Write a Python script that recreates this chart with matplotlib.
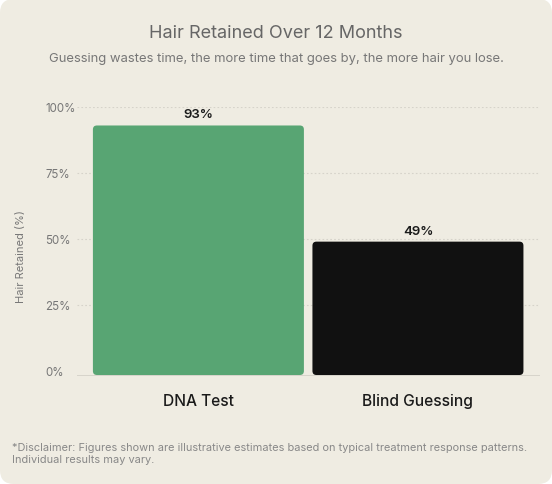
import matplotlib
matplotlib.use("Agg")
import matplotlib.pyplot as plt
from matplotlib.patches import FancyBboxPatch

plt.rcParams['font.family'] = ['Inter', 'DejaVu Sans']

categories = ["DNA Test", "Blind Guessing"]
values = [93, 49]
colors = ["#58a573", "#111111"]
yticks = [0, 25, 50, 75, 100]
ytick_labels = ["0%", "25%", "50%", "75%", "100%"]
title = "Hair Retained Over 12 Months"
subtitle = "Guessing wastes time, the more time that goes by, the more hair you lose."
ylabel = "Hair Retained (%)"
disclaimer = ("*Disclaimer: Figures shown are illustrative estimates based on typical treatment response patterns.\n"
              "Individual results may vary.")

W, H = 552, 485
DPI = 100
fig = plt.figure(figsize=(W / DPI, H / DPI), dpi=DPI)
fig.patch.set_facecolor("white")

bg = "#efece2"
fig.patches.append(FancyBboxPatch((0, 0), 1, 1, boxstyle="round,pad=0,rounding_size=0.025",
                                  mutation_aspect=W / H, transform=fig.transFigure,
                                  facecolor=bg, edgecolor="none", zorder=-10))

def fx(px):
    return px / W

def fy(py):
    return 1 - py / H

# pixel layout: 100% at y=108, 0% at y=372, baseline drawn at y=377
ax_l, ax_r, ax_t, zero_px, base_px = 77, 540, 108, 372, 377
px_per_y = (zero_px - ax_t) / 100.0
ybot = -(base_px - zero_px) / px_per_y
ax = fig.add_axes([fx(ax_l), fy(base_px), fx(ax_r) - fx(ax_l), fy(ax_t) - fy(base_px)])
ax.set_facecolor("none")

xmin, xmax = -0.553, 1.556
ax.set_xlim(xmin, xmax)
ax.set_ylim(ybot, 100)

px_per_x = (ax_r - ax_l) / (xmax - xmin)
bar_w = 211 / px_per_x
r_px = 4
b0 = ybot + 1 / px_per_y
for i, (v, c) in enumerate(zip(values, colors)):
    p = FancyBboxPatch((i - bar_w / 2, b0), bar_w, v - b0,
                       boxstyle=f"round,pad=0,rounding_size={r_px / px_per_x}",
                       mutation_aspect=px_per_x / px_per_y,
                       facecolor=c, edgecolor="none", zorder=3)
    ax.add_patch(p)
    ax.annotate(f"{v}%", (i, v), xytext=(0, 8), textcoords="offset points",
                ha="center", va="center", fontsize=9.5, fontweight="semibold",
                color="#1a1a1a", zorder=4, annotation_clip=False)

for t in yticks[1:]:
    ax.axhline(t, color="#d6d3ca", lw=0.8, ls=(0, (1.5, 2)), zorder=1)
ax.axhline(ybot, color="#d3d0c7", lw=1.2, zorder=2)

for s in ax.spines.values():
    s.set_visible(False)
ax.set_yticks(yticks)
ax.set_yticklabels(ytick_labels)
ax.tick_params(axis="y", length=0, pad=23, labelsize=8.3, labelcolor="#777777")
for lab in ax.get_yticklabels():
    lab.set_ha("left")
ax.set_xticks(range(len(categories)))
ax.set_xticklabels(categories, fontweight="medium")
ax.tick_params(axis="x", length=0, pad=12, labelsize=11.2, labelcolor="#1a1a1a")

fig.text(fx(276), fy(33), title, ha="center", va="center", fontsize=13, color="#666666")
fig.text(fx(276), fy(59), subtitle, ha="center", va="center", fontsize=9.4, color="#777777")
fig.text(fx(21), fy(257), ylabel, ha="center", va="center", rotation=90, fontsize=8, color="#777777")
fig.text(fx(12), fy(454), disclaimer, ha="left", va="center", fontsize=7.9, color="#888888",
         linespacing=1.3)

fig.savefig("out.png", dpi=DPI, facecolor=fig.get_facecolor())
